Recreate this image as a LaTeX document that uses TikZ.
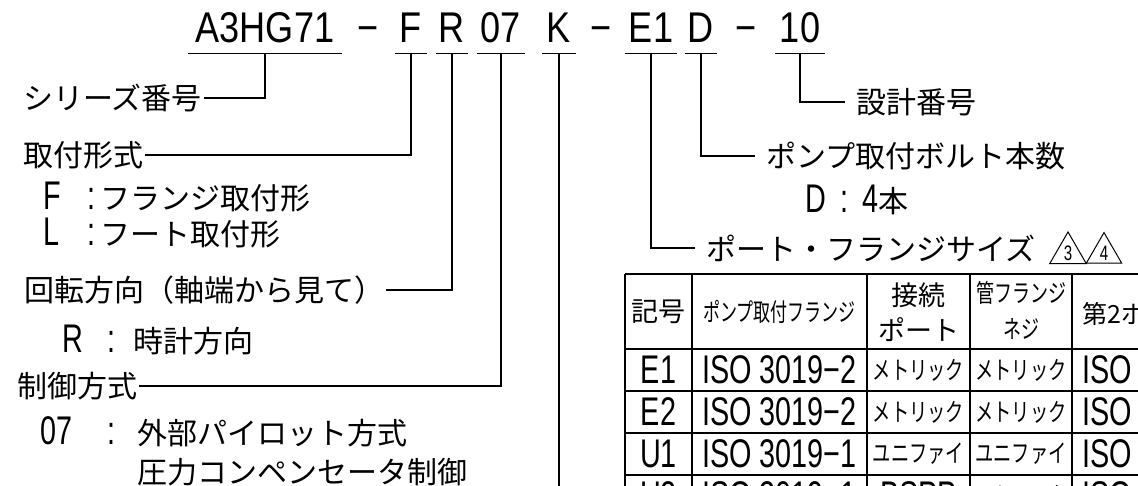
\documentclass[tikz,border=0pt]{standalone}
\usepackage{fontspec}
\usetikzlibrary{positioning,shapes.geometric}
\newfontfamily\jpfont{Noto Sans CJK JP}
\newfontfamily\cadfont[FakeStretch=0.72]{Liberation Sans}
\newfontfamily\codefont[FakeStretch=0.84]{Liberation Sans}
\newcommand\cad{\cadfont\fontsize{40}{40}\selectfont}
\begin{document}
\begin{tikzpicture}[x=1pt,y=-1pt,
  lbl/.style={anchor=west, inner xsep=2pt, inner ysep=0pt, font=\jpfont\fontsize{30}{32}\selectfont},
  rlbl/.style={lbl, inner xsep=11pt},
  seg/.style={anchor=base, inner xsep=0pt, inner ysep=10pt, text depth=0pt, font=\codefont\fontsize{43}{43}\selectfont},
  lead/.style={line width=1.3pt},
  tbl/.style={line width=1.6pt},
  cell/.style={inner sep=0pt, font=\cad},
  jcell/.style={inner sep=0pt, font=\jpfont\fontsize{25}{26}\selectfont},
  tri/.style={regular polygon, regular polygon sides=3, draw, line width=1pt, minimum size=39pt, inner sep=0pt, font=\cadfont\fontsize{21}{21}\selectfont}]
\useasboundingbox (0,0) rectangle (1138,486);
\fill[white] (0,0) rectangle (1138,486);
\clip (0,0) rectangle (1138,486);
\node[seg, minimum width=154pt] (ser) at (265,43) {A3HG71};
\node[seg] (d1) at (368,43) {−};
\node[seg, minimum width=32pt] (mnt) at (411,43) {F};
\node[seg, minimum width=32pt] (rot) at (452,43) {R};
\node[seg, minimum width=48pt] (ctl) at (501,43) {07};
\node[seg, minimum width=33pt] (vol) at (559,43) {K};
\node[seg] (d2) at (601,43) {−};
\node[seg, minimum width=52pt] (prt) at (651,43) {E1};
\node[seg, minimum width=32pt] (blt) at (701,43) {D};
\node[seg] (d3) at (746,43) {−};
\node[seg, minimum width=49pt] (des) at (800,43) {10};
\foreach \s in {ser,mnt,rot,ctl,vol,prt,blt,des} \draw[lead] (\s.south west) -- (\s.south east);
\node[lbl] (lser) at (21,98) {シリーズ番号};
\node[lbl] (lmnt) at (21,155) {取付形式};
\node[lbl] (mF) at (41,197) {\makebox[44pt][l]{\cad F}\makebox[13pt][l]{\cad :}フランジ取付形};
\node[lbl] (mL) at (41,233) {\makebox[44pt][l]{\cad L}\makebox[13pt][l]{\cad :}フート取付形};
\node[lbl] (lrot) at (22,290) {回転方向（軸端から見て）};
\node[lbl] (mR) at (60,340) {\makebox[45pt][l]{\cad R}\makebox[26pt][l]{\cad :}時計方向};
\node[lbl] (lctl) at (15,386) {制御方式};
\node[lbl] (m07) at (38,432) {\makebox[67pt][l]{\cad 07}\makebox[30pt][l]{\cad :}外部パイロット方式};
\node[lbl] (m07b) at (135,472) {圧力コンペンセータ制御};
\node[rlbl] (ldes) at (845,102) {設計番号};
\node[rlbl] (lbolt) at (755,156) {ポンプ取付ボルト本数};
\node[lbl] (mD) at (803,200) {\makebox[35pt][l]{\cad D}\makebox[22pt][l]{\cad :}{\cad 4}本};
\node[rlbl] (lport) at (695,248) {ポート・フランジサイズ};
\node[tri] (rev3) at (1068,253) {3};
\node[tri] (rev4) at (1104,253) {4};
\coordinate (kend) at (559,492);
\draw[lead] (ser.south) |- (lser.east);
\draw[lead] (mnt.south) |- (lmnt.east);
\draw[lead] (rot.south) |- (lrot.east);
\draw[lead] (ctl.south) |- (lctl.east);
\draw[lead] (vol.south) -- (kend);
\draw[lead] (prt.south) |- (lport.west);
\draw[lead] (blt.south) |- (lbolt.west);
\draw[lead] (des.south) |- (ldes.west);
\foreach \x in {625,692,867,970,1072} \draw[tbl] (\x,274) -- (\x,492);
\foreach \y in {274,349,391,433,475} \draw[tbl] (625,\y) -- (1142,\y);
\node[jcell, font=\jpfont\fontsize{27}{28}\selectfont] (hsym) at (658.5,311.5) {記号};
\node[jcell] (hflg) at (779.5,311.5) {\scalebox{0.68}[1]{ポンプ取付フランジ}};
\node[jcell, font=\jpfont\fontsize{27}{28}\selectfont] (hcon1) at (918.5,295) {接続};
\node[jcell, font=\jpfont\fontsize{27}{28}\selectfont] (hcon2) at (918.5,330) {ポート};
\node[jcell] (hpip1) at (1021,293) {\scalebox{0.72}[1]{管フランジ}};
\node[jcell] (hpip2) at (1021,329) {\scalebox{0.72}[1]{ネジ}};
\node[jcell, anchor=west] (hsec) at (1082,314) {第2ポート};
\foreach \id/\y/\flg/\pa [count=\i] in {E1/370/ISO 3019−2/メトリック, E2/412/ISO 3019−2/メトリック, U1/454/ISO 3019−1/ユニファイ} {
  \node[cell] (sym\i) at (658.5,\y) {\id};
  \node[cell] (flg\i) at (779.5,\y) {\flg};
  \node[jcell] (pa\i) at (918.5,\y) {\scalebox{0.73}[1]{\pa}};
  \node[jcell] (pb\i) at (1021,\y) {\scalebox{0.73}[1]{\pa}};
  \node[cell, anchor=west] (iso\i) at (1082,\y) {ISO};
}
\node[cell] (sym4) at (658.5,496) {U2};
\node[cell] (flg4) at (779.5,496) {ISO 3019−1};
\node[cell] (pa4) at (918.5,496) {BSPP};
\node[jcell] (pb4) at (1021,496) {\scalebox{0.73}[1]{メトリック}};
\node[cell, anchor=west] (iso4) at (1082,496) {ISO};
\end{tikzpicture}
\end{document}
